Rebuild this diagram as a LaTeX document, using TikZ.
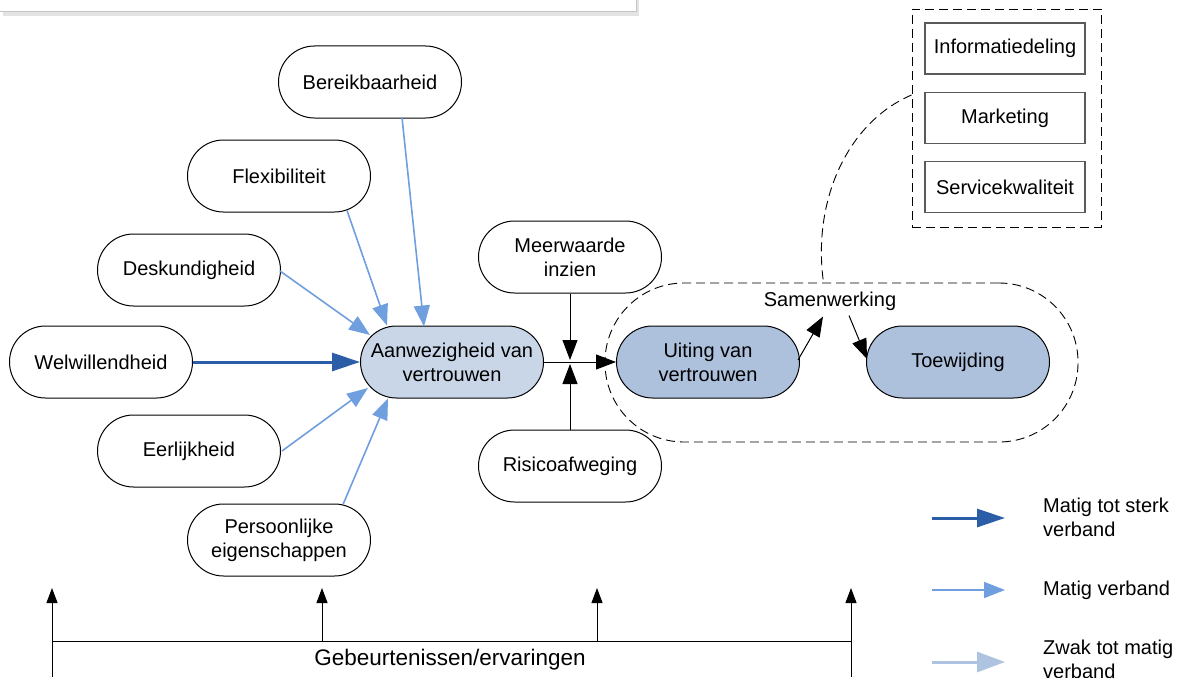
\documentclass[tikz,border=0pt]{standalone}
\usepackage{fontspec}
\setmainfont{Liberation Sans}
\usetikzlibrary{arrows.meta,calc}
\definecolor{fillA}{HTML}{C8D6E8}
\definecolor{fillB}{HTML}{ADC1DD}
\definecolor{strongblue}{HTML}{2B5EA7}
\definecolor{mediumblue}{HTML}{6F9FDE}
\definecolor{weakblue}{HTML}{AEC3DF}
\definecolor{panelgray}{HTML}{C4C4C4}
\definecolor{shadowgray}{HTML}{E3E3E3}
\definecolor{boxgray}{HTML}{5A5A5A}
\begin{document}
\begin{tikzpicture}[x=1pt,y=-1pt,
  every node/.style={font=\fontsize{20}{24}\selectfont, inner sep=0pt},
  pill/.style={draw=black, line width=1pt, rounded corners=36pt,
    minimum width=183pt, minimum height=72pt, align=center},
  itembox/.style={draw=boxgray, line width=1.2pt, fill=white,
    minimum width=160pt, minimum height=51pt},
  dashline/.style={line width=0.9pt, dash pattern=on 9pt off 5pt},
  strongarr/.style={draw=strongblue, line width=3pt, -{Triangle[length=28pt,width=18pt]}},
  mediumarr/.style={draw=mediumblue, line width=1.6pt, -{Triangle[length=21pt,width=16pt]}},
  weakarr/.style={draw=weakblue, line width=3pt, -{Triangle[length=28pt,width=20pt]}},
  blackarr/.style={draw=black, line width=1pt, -{Triangle[length=20pt,width=15pt]}},
  eventarr/.style={draw=black, line width=1pt, -{Triangle[length=15pt,width=11pt]}},
  plainline/.style={draw=black, line width=1pt}]

\useasboundingbox (0,0) rectangle (1182,677);

% panel at the top edge
\fill[shadowgray] (3,-10) rectangle (639,16);
\draw[panelgray, line width=1pt, fill=white] (-1,-10) rectangle (636,12);

% antecedents of trust
\node[pill] (bereik) at (370,82)  {Bereikbaarheid};
\node[pill] (flex)   at (279,176) {Flexibiliteit};
\node[pill] (desk)   at (189,270) {Deskundigheid};
\node[pill] (welw)   at (101,362) {Welwillendheid};
\node[pill] (eerl)   at (189,451) {Eerlijkheid};
\node[pill] (pers)   at (279,540) {Persoonlijke\\eigenschappen};

\node[pill, fill=fillA] (aanw) at (452,362) {Aanwezigheid van\\vertrouwen};

\node[pill] (meer) at (570,257) {Meerwaarde\\inzien};
\node[pill] (risi) at (570,466) {Risicoafweging};

% cooperation region
\node[draw, dashline, rounded corners=79pt, minimum width=473pt, minimum height=159pt]
  (region) at (841.5,362.5) {};
\node[pill, fill=fillB] (uiting) at (708,362) {Uiting van\\vertrouwen};
\node[pill, fill=fillB] (toew)   at (958,362) {Toewijding};
\node (samen) at (830,301) {Samenwerking};

% forms of cooperation
\node[draw, dashline, minimum width=189pt, minimum height=218pt] (grp) at (1006.5,118) {};
\node[itembox] (info) at (1005,48.5) {Informatiedeling};
\node[itembox] (mark) at (1005,118)  {Marketing};
\node[itembox] (serv) at (1005,187)  {Servicekwaliteit};

\draw[dashline] ($(grp.west)+(0,-23)$) .. controls (848,122) and (812,200) .. ($(region.north)+(-18,0)$);

% influences on presence of trust
\draw[mediumarr] ($(bereik.south)+(32,-1)$) -- ($(aanw.north)+(-28,1)$);
\draw[mediumarr] ($(flex.south)+(68,-2)$) -- ($(aanw.north)+(-65,0)$);
\draw[mediumarr] ($(desk.east)+(-1,1)$) -- ($(aanw.west)+(10,-27)$);
\draw[strongarr] (welw.east) -- (aanw.west);
\draw[mediumarr] ($(eerl.east)+(1,0)$) -- ($(aanw.west)+(8,26)$);
\draw[mediumarr] ($(pers.north)+(64,1)$) -- ($(aanw.south)+(-64,0)$);

% junction towards expressed trust
\coordinate (jt) at (570,360);
\coordinate (jb) at (570,364);
\draw[blackarr] (aanw.east) -- (uiting.west);
\draw[blackarr] (meer.south) -- (jt);
\draw[blackarr] (risi.north) -- (jb);

% links through cooperation
\draw[blackarr] ($(uiting.east)+(-2,-2)$) -- ($(samen.south)+(-7,6)$);
\draw[blackarr] ($(samen.south)+(19,5)$) -- ($(toew.west)+(1,-3)$);

% events / experiences
\coordinate (e1) at (52,588);  \coordinate (b1) at (52,677);
\coordinate (e2) at (322,588); \coordinate (b2) at (322,641);
\coordinate (e3) at (597,588); \coordinate (b3) at (597,641);
\coordinate (e4) at (851,588); \coordinate (b4) at (851,677);
\draw[plainline] (b1 |- b2) -- (b4 |- b2);
\draw[eventarr] (b1) -- (e1);
\draw[eventarr] (b2) -- (e2);
\draw[eventarr] (b3) -- (e3);
\draw[eventarr] (b4) -- (e4);
\node[font=\fontsize{22.5}{27}\selectfont] (events) at (450,660) {Gebeurtenissen/ervaringen};

% legend
\coordinate (l1s) at (932,518); \coordinate (l1e) at (1005,518);
\coordinate (l2s) at (932,590); \coordinate (l2e) at (1005,590);
\coordinate (l3s) at (932,662); \coordinate (l3e) at (1005,662);
\draw[strongarr] (l1s) -- (l1e);
\draw[mediumarr] (l2s) -- (l2e);
\draw[weakarr]   (l3s) -- (l3e);
\node[anchor=west, align=left] (t1) at (1043,517) {Matig tot sterk\\verband};
\node[anchor=west, align=left] (t2) at (1043,590) {Matig verband};
\node[anchor=west, align=left] (t3) at (1043,659) {Zwak tot matig\\verband};
\end{tikzpicture}
\end{document}
